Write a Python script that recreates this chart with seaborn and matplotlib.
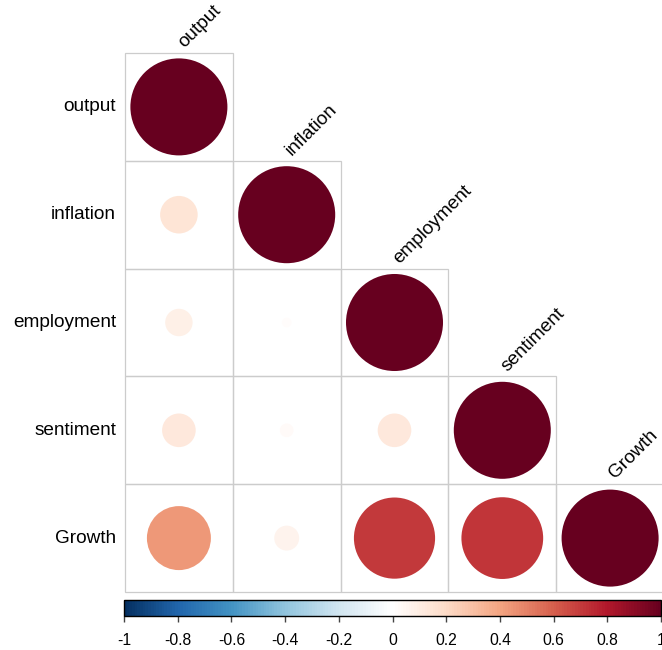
import numpy as np
import pandas as pd
import matplotlib
matplotlib.use("Agg")
import matplotlib.pyplot as plt
from matplotlib.colors import LinearSegmentedColormap, ListedColormap, Normalize
from matplotlib.cm import ScalarMappable
from matplotlib.patches import Rectangle
import seaborn as sns

# ---- data ----
variables = ["output", "inflation", "employment", "sentiment", "Growth"]
# lower-triangle correlations, row by row (row i, columns 0..i)
row_output = [1.00]
row_inflation = [0.15, 1.00]
row_employment = [0.08, 0.01, 1.00]
row_sentiment = [0.12, 0.02, 0.12, 1.00]
row_growth = [0.435, 0.066, 0.70, 0.71, 1.00]
cbar_ticks = [-1, -0.8, -0.6, -0.4, -0.2, 0, 0.2, 0.4, 0.6, 0.8, 1]
cbar_labels = ["-1", "-0.8", "-0.6", "-0.4", "-0.2", "0", "0.2", "0.4", "0.6", "0.8", "1"]

rows = [row_output, row_inflation, row_employment, row_sentiment, row_growth]
n = len(variables)
recs = []
for i, vals in enumerate(rows):
    for j, v in enumerate(vals):
        recs.append({"x": j + 0.5, "y": i + 0.5, "r": v, "absr": abs(v)})
df = pd.DataFrame(recs)

corr_cols = ["#053061", "#2166AC", "#4393C3", "#92C5DE", "#D1E5F0", "#FFFFFF",
             "#FDDBC7", "#F4A582", "#D6604D", "#B2182B", "#67001F"]
cmap = LinearSegmentedColormap.from_list("corrRdBu", corr_cols, N=200)

sns.set_style("white")
plt.rcParams["font.family"] = ["Liberation Sans", "DejaVu Sans"]

W, H, DPI = 662, 650, 100
fig = plt.figure(figsize=(W / DPI, H / DPI), dpi=DPI)
cell = 107.8
left_px, top_px = 125, 53
ax = fig.add_axes([left_px / W, 1 - (top_px + n * cell) / H, n * cell / W, n * cell / H])

grid = np.zeros((n, n))
mask = np.triu(np.ones((n, n), dtype=bool), k=1)
sns.heatmap(grid, mask=mask, cmap=ListedColormap(["white"]), cbar=False,
            linewidths=0, xticklabels=False, yticklabels=variables, ax=ax)

# cell borders for the lower triangle (incl. diagonal)
for i in range(n):
    for j in range(i + 1):
        ax.add_patch(Rectangle((j, i), 1, 1, fill=False, edgecolor="#cccccc",
                               linewidth=0.9, clip_on=False, zorder=1))

amax = (0.9 * cell * 72 / DPI) ** 2
sns.scatterplot(data=df, x="x", y="y", hue="r", palette=cmap, hue_norm=(-1, 1),
                size="absr", sizes=(0, amax), size_norm=(0, 1), legend=False,
                linewidth=0, edgecolor="none", marker="o", ax=ax, zorder=2)
ax.set_xlim(0, n)
ax.set_ylim(n, 0)
ax.set_xlabel("")
ax.set_ylabel("")
for s in ax.spines.values():
    s.set_visible(False)
ax.tick_params(axis="y", length=0, pad=6.5, labelsize=13.7, labelcolor="black")
for lab in ax.get_yticklabels():
    lab.set_rotation(0)
    lab.set_ha("right")

for j, name in enumerate(variables):
    ax.text(j + 0.55, j - 0.045, name, rotation=45, ha="left", va="baseline",
            rotation_mode="anchor", fontsize=13.7, color="black", clip_on=False)

cax = fig.add_axes([124 / W, 1 - 616 / H, 537 / W, 16 / H])
sm = ScalarMappable(norm=Normalize(-1, 1), cmap=cmap)
cb = fig.colorbar(sm, cax=cax, orientation="horizontal", ticks=cbar_ticks)
cb.ax.set_xticklabels(cbar_labels)
cb.outline.set_linewidth(1.0)
cb.outline.set_edgecolor("black")
cb.ax.tick_params(axis="x", length=4, width=1, color="#444444", pad=8,
                  labelsize=11.3, labelcolor="black")

fig.savefig("out.png", dpi=DPI)
